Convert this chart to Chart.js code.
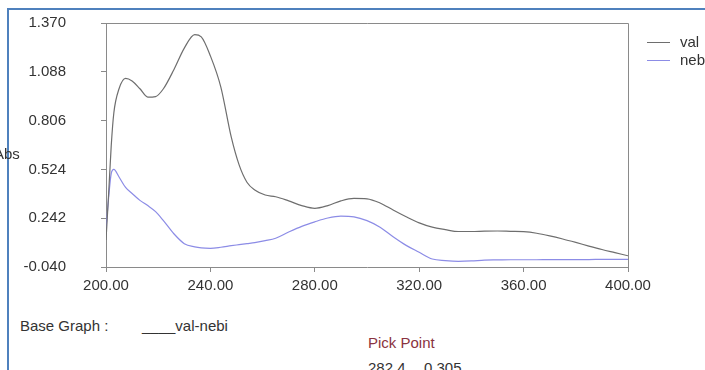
<!DOCTYPE html>
<html>
<head>
<meta charset="utf-8">
<script src="https://cdn.jsdelivr.net/npm/chart.js@4"></script>
<style>
  body { margin: 0; width: 705px; height: 370px; overflow: hidden; background: #fff; position: relative;
         font-family: "Liberation Sans", Arial, sans-serif; font-size: 15px; color: #333; }
  #frame { position: absolute; left: 7px; top: 8px; width: 720px; height: 400px;
           border-top: 2px solid #4f81bd; border-left: 2px solid #4f81bd; }
  #wrap { position: absolute; left: 0; top: 0; width: 705px; height: 300px; }
  .txt { position: absolute; white-space: pre; line-height: 1; }
  #legend .row { position: absolute; left: 647px; height: 16px; }
  #legend .swatch { position: absolute; left: 0; top: 8px; width: 23px; height: 1px; }
  #legend .lbl { position: absolute; left: 33px; top: 0; line-height: 16px; }
</style>
</head>
<body>
<div id="frame"></div>
<div id="wrap"><canvas id="specChart" width="705" height="300"></canvas></div>
<div class="txt" style="left:-6px; top:146px;">Abs</div>
<div id="legend"></div>
<div class="txt" style="left:20px; top:318px;">Base Graph :</div>
<div class="txt" style="left:142px; top:318px;">____val-nebi</div>
<div class="txt" style="left:368px; top:335px; color:#8a3340;">Pick Point</div>
<div class="txt" style="left:368px; top:360px;">282.4</div>
<div class="txt" style="left:424px; top:360px;">0.305</div>

<script>
// wavelength (nm)
const wavelengths = [200, 201, 202, 203, 205, 207.5, 210, 213, 216, 219, 222, 226, 230, 234, 236.5, 240, 244, 248, 251, 254,
    257, 261, 265, 270, 275, 280, 285, 290, 295, 300, 305, 310, 315, 320, 325, 330, 335, 340, 345, 350,
    355, 360, 365, 370, 375, 380, 385, 390, 395, 400];

const valAbs = [0.116, 0.38, 0.66, 0.85, 0.99, 1.05, 1.035, 0.99, 0.942, 0.945, 0.99, 1.10, 1.225, 1.303, 1.29, 1.18, 1.00, 0.71, 0.55, 0.45,
    0.405, 0.376, 0.366, 0.342, 0.315, 0.299, 0.315, 0.342, 0.356, 0.354, 0.330, 0.289, 0.250, 0.215, 0.190, 0.176, 0.165, 0.165, 0.167, 0.168,
    0.166, 0.164, 0.155, 0.140, 0.122, 0.102, 0.081, 0.061, 0.043, 0.025];

const nebiAbs = [0.18, 0.36, 0.50, 0.524, 0.48, 0.42, 0.385, 0.345, 0.315, 0.28, 0.228, 0.152, 0.095, 0.076, 0.070, 0.068, 0.074, 0.083, 0.089, 0.095,
    0.101, 0.112, 0.126, 0.162, 0.195, 0.221, 0.243, 0.254, 0.250, 0.228, 0.190, 0.135, 0.085, 0.045, 0.006, -0.003, -0.007, -0.005, 0.000, 0.001,
    0.002, 0.002, 0.002, 0.003, 0.003, 0.003, 0.003, 0.004, 0.004, 0.004];

const xTicks = [200, 240, 280, 320, 360, 400];
const yTicks = [-0.040, 0.242, 0.524, 0.806, 1.088, 1.370];

const seriesNames = ['val', 'nebi'];
const seriesColors = ['#6e6e6e', '#8c8ce6'];

function toPoints(ys) {
    return wavelengths.map((x, i) => ({ x: x, y: ys[i] }));
}

// top and right edges of the plot box
const boxPlugin = {
    id: 'box',
    afterDraw(chart) {
        const a = chart.chartArea;
        const ctx = chart.ctx;
        ctx.save();
        ctx.strokeStyle = '#8a8a8a';
        ctx.lineWidth = 1;
        ctx.beginPath();
        ctx.moveTo(a.left, a.top + 0.5);
        ctx.lineTo(a.right + 0.5, a.top + 0.5);
        ctx.lineTo(a.right + 0.5, a.bottom);
        ctx.stroke();
        ctx.restore();
    }
};

const axisFont = { family: '"Liberation Sans", Arial, sans-serif', size: 15 };

const chart = new Chart(document.getElementById('specChart').getContext('2d'), {
    type: 'line',
    data: {
        datasets: [
            { label: seriesNames[0], data: toPoints(valAbs), borderColor: seriesColors[0], borderWidth: 1.2, pointRadius: 0, cubicInterpolationMode: 'monotone' },
            { label: seriesNames[1], data: toPoints(nebiAbs), borderColor: seriesColors[1], borderWidth: 1.2, pointRadius: 0, cubicInterpolationMode: 'monotone' }
        ]
    },
    options: {
        responsive: false,
        animation: false,
        layout: { padding: { left: 0, top: 23, right: 77, bottom: 0 } },
        plugins: { legend: { display: false }, tooltip: { enabled: false } },
        scales: {
            x: {
                type: 'linear', min: 200, max: 400,
                afterBuildTicks: (s) => { s.ticks = xTicks.map(v => ({ value: v })); },
                afterFit: (s) => { s.height = 33; s.paddingLeft = 0; s.paddingRight = 0; },
                ticks: { color: '#333', font: axisFont, padding: 5, maxRotation: 0, callback: (v) => v.toFixed(2) },
                grid: { drawOnChartArea: false, drawTicks: true, tickLength: 5, color: '#8a8a8a' },
                border: { color: '#8a8a8a' }
            },
            y: {
                min: -0.04, max: 1.37,
                afterBuildTicks: (s) => { s.ticks = yTicks.map(v => ({ value: v })); },
                afterFit: (s) => { s.width = 106; s.paddingTop = 0; s.paddingBottom = 0; },
                ticks: { color: '#333', font: axisFont, padding: 35, callback: (v) => v.toFixed(3) },
                grid: { drawOnChartArea: false, drawTicks: true, tickLength: 5, color: '#8a8a8a' },
                border: { color: '#8a8a8a' }
            }
        }
    },
    plugins: [boxPlugin]
});

// legend beside the plot
const legend = document.getElementById('legend');
chart.data.datasets.forEach((ds, i) => {
    const row = document.createElement('div');
    row.className = 'row';
    row.style.top = (34 + i * 18) + 'px';
    row.innerHTML = '<div class="swatch" style="background:' + ds.borderColor + '"></div><div class="lbl">' + ds.label + '</div>';
    legend.appendChild(row);
});
</script>
</body>
</html>
